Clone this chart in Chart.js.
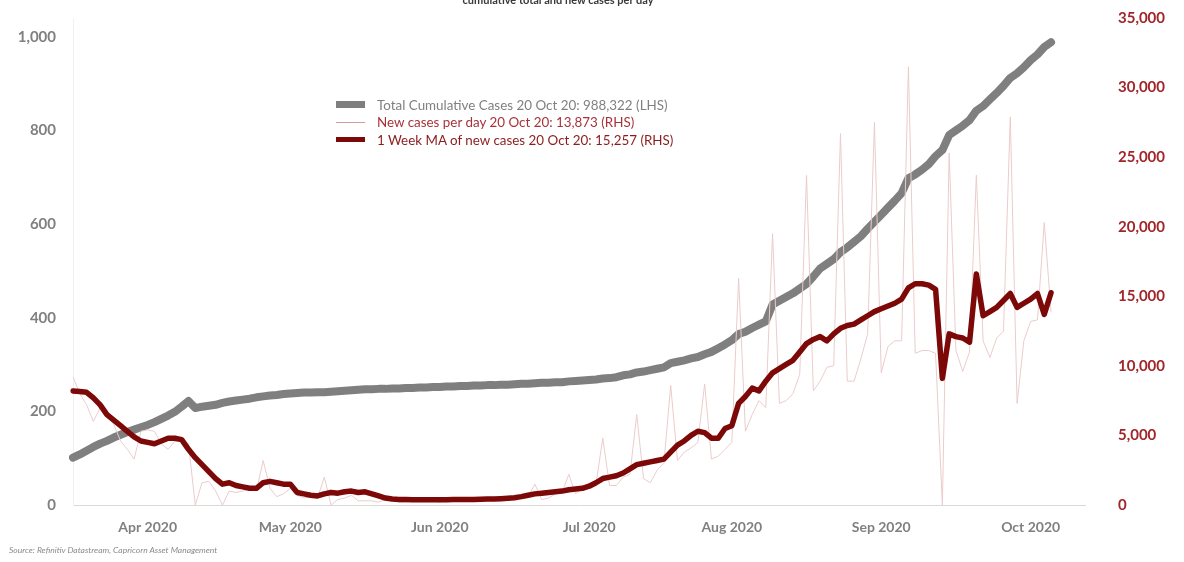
<!DOCTYPE html>
<html>
<head>
<meta charset="utf-8">
<script src="https://cdn.jsdelivr.net/npm/chart.js@4.4.1/dist/chart.umd.min.js"></script>
<style>
  html, body { margin: 0; padding: 0; background: #fff; }
  .wrap { position: relative; width: 1184px; height: 562px; overflow: hidden; font-family: Lato, "Open Sans", sans-serif; }
  .title { position: absolute; left: 0; width: 1116px; top: -7px; text-align: center; font-size: 11px; font-weight: bold; color: #3a3a3a; }
  .legend { position: absolute; left: 336px; top: 96px; }
  .legend .row { height: 17.5px; display: flex; align-items: center; font-size: 13.4px; white-space: nowrap; }
  .legend .sw { width: 29px; margin-right: 12px; }
  .source { position: absolute; left: 9px; top: 545px; font-size: 8.5px; font-style: italic; color: #8a8a8a; }
</style>
</head>
<body>
<div class="wrap">
  <canvas id="chart" width="1184" height="562"></canvas>
  <div class="title">cumulative total and new cases per day</div>
  <div class="legend" id="legend"></div>
  <div class="source">Source: Refinitiv Datastream, Capricorn Asset Management</div>
</div>
<script>
// business days, 1 Apr 2020 .. 20 Oct 2020 (axis runs on a week past the last point)
const firstDay = '2020-04-01';
const lastDay = '2020-10-27';

const monthLabels = ['Apr 2020', 'May 2020', 'Jun 2020', 'Jul 2020', 'Aug 2020', 'Sep 2020', 'Oct 2020'];
const monthLabelDays = ['2020-04-16', '2020-05-15', '2020-06-16', '2020-07-16', '2020-08-14', '2020-09-15', '2020-10-15'];

const leftTicks = [0, 200, 400, 600, 800, 1000];
const rightTicks = [0, 5000, 10000, 15000, 20000, 25000, 30000, 35000];

const seriesNames = [
  'Total Cumulative Cases 20 Oct 20: 988,322 (LHS)',
  'New cases per day 20 Oct 20: 13,873 (RHS)',
  '1 Week MA of new cases 20 Oct 20: 15,257 (RHS)'
];

// total cumulative cases, thousands (LHS)
const totalCases = [
  101, 108, 116, 124, 131, 137, 144, 150, 156, 161,
  166, 171, 177, 184, 191, 199, 210, 222, 207, 210,
  212, 214, 218, 221, 223, 225, 227, 230, 232, 234,
  235, 237, 238, 239, 240, 240, 241, 241, 242, 243,
  244, 245, 246, 247, 247, 248, 248, 249, 249, 250,
  250, 251, 251, 252, 252, 253, 253, 254, 254, 255,
  255, 256, 256, 257, 257, 258, 259, 259, 260, 261,
  261, 262, 262, 264, 265, 266, 267, 268, 270, 271,
  273, 277, 279, 283, 285, 288, 291, 294, 303, 306,
  309, 313, 316, 322, 327, 335, 343, 352, 365, 370,
  378, 385, 392, 428, 436, 444, 452, 462, 472, 488,
  505, 515, 525, 540, 550, 562, 574, 590, 605, 620,
  635, 650, 666, 698, 706, 716, 728, 745, 758, 790,
  800, 810, 822, 842, 852, 866, 880, 895, 912, 922,
  935, 950, 962, 978, 988.322
];

// new cases per day (RHS)
const newCases = [
  9200, 8000, 7200, 6000, 7000, 6400, 5800, 4600, 4000, 3300,
  5300, 5400, 5300, 4400, 4000, 4600, 4600, 4400, 0, 1600,
  1700, 1000, 0, 1000, 900, 1000, 1200, 1000, 3200, 1200,
  600, 800, 1200, 700, 500, 600, 500, 2000, 0, 400,
  500, 700, 300, 300, 300, 200, 400, 500, 200, 200,
  300, 400, 300, 300, 200, 400, 300, 400, 300, 300,
  400, 400, 500, 600, 400, 500, 600, 600, 1500, 400,
  500, 800, 900, 2200, 800, 1200, 1300, 1500, 4800, 1400,
  1400, 2000, 2200, 6500, 1900, 1600, 2500, 3000, 8600, 3200,
  3800, 4100, 4500, 8700, 3300, 3500, 4000, 4500, 16300, 5300,
  6500, 7500, 7000, 19500, 7300, 7500, 8000, 9400, 23700, 8200,
  8900, 9900, 10000, 26700, 8900, 8900, 10500, 12300, 27500, 9500,
  11400, 11800, 11800, 31500, 10900, 11100, 11100, 10900, 0, 25300,
  11100, 9600, 11000, 23700, 11800, 10600, 12000, 12500, 27900, 7300,
  11800, 13200, 13300, 20300, 13873
];

// 1 week moving average of new cases (RHS)
const weekAvg = [
  8200, 8150, 8100, 7700, 7200, 6500, 6100, 5700, 5300, 4900,
  4600, 4500, 4400, 4600, 4800, 4800, 4700, 4000, 3400, 2900,
  2400, 1900, 1500, 1600, 1400, 1300, 1200, 1200, 1600, 1700,
  1600, 1500, 1500, 900, 800, 700, 650, 800, 900, 850,
  950, 1000, 900, 950, 800, 650, 500, 430, 400, 400,
  380, 380, 380, 380, 370, 380, 390, 400, 400, 400,
  420, 430, 430, 450, 480, 520, 600, 700, 800, 850,
  900, 950, 1000, 1100, 1150, 1200, 1350, 1600, 1900, 2000,
  2100, 2300, 2600, 2900, 3000, 3100, 3200, 3300, 3800, 4300,
  4600, 5000, 5300, 5200, 4800, 4800, 5500, 5700, 7300, 7800,
  8400, 8200, 8900, 9500, 9800, 10100, 10400, 11000, 11600, 11900,
  12100, 11800, 12300, 12700, 12900, 13000, 13300, 13600, 13900, 14100,
  14300, 14500, 14800, 15600, 15900, 15900, 15800, 15500, 9100, 12300,
  12100, 12000, 11700, 16600, 13600, 13900, 14200, 14700, 15200, 14200,
  14500, 14800, 15200, 13700, 15257
];

function businessDays(from, to) {
  const out = [];
  const end = new Date(to + 'T00:00:00Z').getTime();
  for (let t = new Date(from + 'T00:00:00Z').getTime(); t <= end; t += 86400000) {
    const d = new Date(t);
    if (d.getUTCDay() !== 0 && d.getUTCDay() !== 6) out.push(d.toISOString().slice(0, 10));
  }
  return out;
}

const days = businessDays(firstDay, lastDay);

const GREY = '#7f7f7f';
const PINK = '#ebcccc';
const MAROON = '#7c0808';
const RED_TEXT = '#a0262a';

const styles = [
  { color: GREY, swatch: 7, text: '#808080' },
  { color: '#d79a9a', swatch: 1, text: '#a8323a' },
  { color: MAROON, swatch: 5, text: '#8c1c1c' }
];

// legend
const legend = document.getElementById('legend');
seriesNames.forEach((name, i) => {
  const row = document.createElement('div');
  row.className = 'row';
  row.innerHTML = `<span class="sw" style="height:${styles[i].swatch}px;background:${styles[i].color}"></span>` +
    `<span style="color:${styles[i].text}">${name}</span>`;
  legend.appendChild(row);
});

const tickFont = { family: 'Lato', size: 15, weight: 'bold' };
const fmt = v => v.toLocaleString('en-US');

// big tick padding would otherwise shrink the plot vertically
function fixWidth(w) {
  return scale => {
    scale.width = w;
    scale.paddingTop = 0;
    scale.paddingBottom = 0;
  };
}

new Chart(document.getElementById('chart'), {
  type: 'line',
  data: {
    labels: days,
    datasets: [
      {
        label: seriesNames[0],
        data: totalCases,
        yAxisID: 'yL',
        borderColor: GREY,
        borderWidth: 8,
        order: 2
      },
      {
        label: seriesNames[1],
        data: newCases,
        yAxisID: 'yR',
        borderColor: PINK,
        borderWidth: 1,
        order: 1
      },
      {
        label: seriesNames[2],
        data: weekAvg,
        yAxisID: 'yR',
        borderColor: MAROON,
        borderWidth: 5.5,
        order: 0
      }
    ]
  },
  options: {
    responsive: false,
    animation: false,
    layout: { padding: { top: 18, bottom: 19, left: 0, right: 0 } },
    elements: {
      point: { radius: 0 },
      line: { tension: 0, borderJoinStyle: 'round', borderCapStyle: 'round' }
    },
    plugins: { legend: { display: false }, tooltip: { enabled: false } },
    scales: {
      x: {
        type: 'category',
        offset: false,
        grid: { display: false, drawTicks: false },
        border: { color: '#d9d9d9', width: 1 },
        ticks: {
          autoSkip: false,
          maxRotation: 0,
          padding: 14,
          color: '#808080',
          font: { family: 'Lato', size: 14, weight: 'bold' },
          callback(value) {
            const k = monthLabelDays.indexOf(days[value]);
            return k >= 0 ? monthLabels[k] : '';
          }
        },
        afterFit(scale) {
          scale.height = 38;
          scale.paddingLeft = 0;
          scale.paddingRight = 0;
        }
      },
      yL: {
        position: 'left',
        min: 0,
        max: 1040,
        grid: { display: false, drawTicks: false },
        border: { color: '#f0f0f0' },
        ticks: {
          autoSkip: false,
          padding: 17,
          color: '#808080',
          font: tickFont,
          callback: fmt
        },
        afterBuildTicks(scale) { scale.ticks = leftTicks.map(v => ({ value: v })); },
        afterFit: fixWidth(73)
      },
      yR: {
        position: 'right',
        min: 0,
        max: 35000,
        grid: { display: false, drawTicks: false },
        border: { display: false },
        ticks: {
          autoSkip: false,
          padding: 33,
          color: RED_TEXT,
          font: tickFont,
          callback: fmt
        },
        afterBuildTicks(scale) { scale.ticks = rightTicks.map(v => ({ value: v })); },
        afterFit: fixWidth(99)
      }
    }
  }
});
</script>
</body>
</html>
